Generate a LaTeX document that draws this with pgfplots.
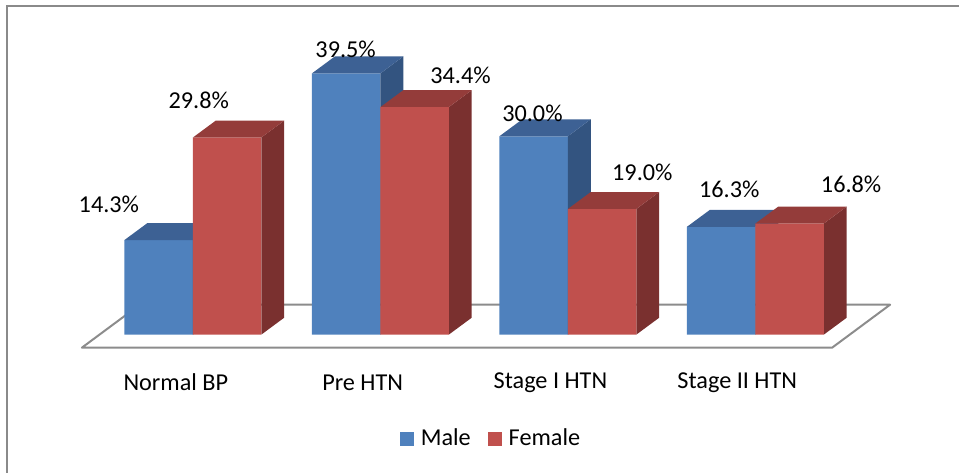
\documentclass[border=0pt]{standalone}
\usepackage{fontspec}
\setmainfont{Carlito}
\usepackage{pgfplots}
\pgfplotsset{compat=1.18}
\definecolor{mfront}{HTML}{4F81BD}
\definecolor{mtop}{HTML}{3D6194}
\definecolor{mside}{HTML}{335480}
\definecolor{ffront}{HTML}{C0504D}
\definecolor{ftop}{HTML}{943C3A}
\definecolor{fside}{HTML}{7A302F}
\definecolor{floorc}{HTML}{8C8C8C}
\definecolor{framec}{HTML}{8A8A8A}
\newcommand\lbl{\fontsize{18.2}{21.8}\selectfont}
\newcommand\dx{0.1225}
\newcommand\dy{2.568}
\newcommand\bw{0.365}
% #1 left x of the bar, #2 value, #3 top colour, #4 side colour
\newcommand\faces[4]{%
  \pgfmathsetmacro\xr{#1+\bw}%
  \pgfmathsetmacro\xlb{#1+\dx}%
  \pgfmathsetmacro\xrb{#1+\bw+\dx}%
  \pgfmathsetmacro\vb{#2+\dy}%
  \edef\temp{\noexpand\addplot[fill=#4,draw=none,forget plot] coordinates {(\xr,0) (\xr,#2) (\xrb,\vb) (\xrb,\dy)};}\temp
  \edef\temp{\noexpand\addplot[fill=#3,draw=none,forget plot] coordinates {(#1,#2) (\xr,#2) (\xrb,\vb) (\xlb,\vb)};}\temp
}
\begin{document}
\begin{tikzpicture}
\begin{axis}[
  scale only axis, width=720pt, height=354.75pt,
  xmin=-1.0283, xmax=4.0863, ymin=-20.846, ymax=50.604,
  hide axis, clip=false,
  legend columns=2,
  legend style={draw=none, fill=none, at={(axis cs:1.593,-15.71)}, anchor=center,
    font=\lbl, /tikz/every even column/.append style={column sep=11pt}},
]
\path (rel axis cs:0,0) rectangle (rel axis cs:1,1);
% frame
\draw[framec, line width=1.5pt] (axis cs:-0.991,-20.846) -- (axis cs:-0.991,49.70) -- (axis cs:4.0863,49.70);
% floor
\addplot[floorc, line width=1.5pt, line join=round, forget plot] coordinates {(-0.5914,-1.964) (3.4097,-1.964) (3.7187,4.532) (-0.2824,4.532)} -- cycle;
% male
\addplot[ybar, bar width=51.38pt, bar shift=-25.69pt, fill=mfront, draw=none, forget plot]
  coordinates {(0,14.3) (1,39.5) (2,30.0) (3,16.3)};
\faces{-0.365}{14.3}{mtop}{mside}
\faces{0.635}{39.5}{mtop}{mside}
\faces{1.635}{30.0}{mtop}{mside}
\faces{2.635}{16.3}{mtop}{mside}
% female
\faces{0}{29.8}{ftop}{fside}
\faces{1}{34.4}{ftop}{fside}
\faces{2}{19.0}{ftop}{fside}
\faces{3}{16.8}{ftop}{fside}
\addplot[ybar, bar width=51.38pt, bar shift=25.69pt, fill=ffront, draw=none, forget plot]
  coordinates {(0,29.8) (1,34.4) (2,19.0) (3,16.8)};
% legend
\addlegendimage{legend image code/.code={\fill[mfront,draw=none] (0pt,-5.25pt) rectangle (10.5pt,5.25pt); \path[draw=none,fill=none] (0pt,0pt) rectangle (13.5pt,0.1pt);}}
\addlegendentry{Male}
\addlegendimage{legend image code/.code={\fill[ffront,draw=none] (0pt,-5.25pt) rectangle (10.5pt,5.25pt); \path[draw=none,fill=none] (0pt,0pt) rectangle (13.5pt,0.1pt);}}
\addlegendentry{Female}
% value labels
\node[font=\lbl] at (axis cs:-0.4475,19.64) {14.3\%};
\node[font=\lbl] at (axis cs:0.0320,35.50) {29.8\%};
\node[font=\lbl] at (axis cs:0.8151,43.20) {39.5\%};
\node[font=\lbl] at (axis cs:1.4278,39.27) {34.4\%};
\node[font=\lbl] at (axis cs:1.8114,33.53) {30.0\%};
\node[font=\lbl] at (axis cs:2.3974,24.62) {19.0\%};
\node[font=\lbl] at (axis cs:2.8609,22.05) {16.3\%};
\node[font=\lbl] at (axis cs:3.5109,22.66) {16.8\%};
% category labels
\node[font=\lbl] at (axis cs:-0.0906,-7.25) {Normal BP};
\node[font=\lbl] at (axis cs:0.9057,-7.25) {Pre HTN};
\node[font=\lbl] at (axis cs:1.9073,-7.25) {Stage I HTN};
\node[font=\lbl] at (axis cs:2.9036,-7.25) {Stage II HTN};
\end{axis}
\end{tikzpicture}
\end{document}
